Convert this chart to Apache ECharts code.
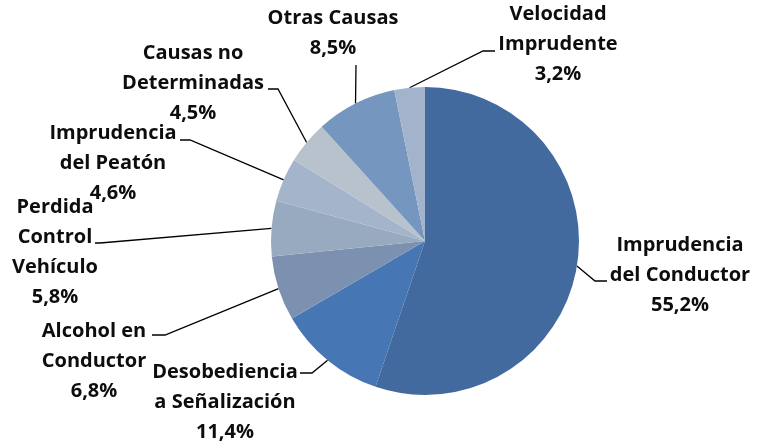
<!DOCTYPE html>
<html>
<head>
<meta charset="utf-8">
<script src="https://cdn.jsdelivr.net/npm/echarts@6/dist/echarts.min.js"></script>
<style>
  html, body { margin: 0; padding: 0; background: #fff; }
  #chart { width: 757px; height: 445px; }
</style>
</head>
<body>
<div id="chart"></div>
<script>
// causas, en orden horario desde las 12
const causes = [
  'Imprudencia\ndel Conductor',
  'Desobediencia\na Señalización',
  'Alcohol en\nConductor',
  'Perdida\nControl\nVehículo',
  'Imprudencia\ndel Peatón',
  'Causas no\nDeterminadas',
  'Otras Causas',
  'Velocidad\nImprudente',
]
const percents = [55.2, 11.4, 6.8, 5.8, 4.6, 4.5, 8.5, 3.2]

const sliceColors = ['#436a9e', '#4676b4', '#7c91b0', '#98aac0', '#a4b4cb', '#b7c2cc', '#7596be', '#a2b3cb']
// label block centres (px)
const labelPos = [
  [680, 275], [225, 402], [94, 361], [55, 252],
  [113, 163], [193, 83], [333, 33], [558, 44],
]
// where the leader line meets the label: x, y, horizontal stub length
const labelAnchor = [
  [607, 281, -12], [300, 373, 12], [152, 335, 13], [95, 243, 5],
  [180, 140, 10], [268, 89, 10], [356, 65, 0], [495, 51, -12],
]

const CX = 425
const CY = 241
const R = 154
const total = percents.reduce((a, b) => a + b, 0)

// point on the rim at the middle of slice i
function rimPoint(i) {
  let before = 0
  for (let k = 0; k < i; k++) before += percents[k]
  const a = ((before + percents[i] / 2) / total) * Math.PI * 2
  return [CX + R * Math.sin(a), CY - R * Math.cos(a)]
}

const chart = echarts.init(document.getElementById('chart'))

chart.setOption({
  animation: false,
  series: [
    {
      type: 'pie',
      center: [CX, CY],
      radius: R,
      startAngle: 90,
      clockwise: true,
      data: causes.map((name, i) => ({
        name,
        value: percents[i],
        itemStyle: { color: sliceColors[i] },
      })),
      label: {
        show: true,
        formatter: (p) => p.name + '\n' + p.value.toFixed(1).replace('.', ',') + '%',
        color: '#0d0d0d',
        fontFamily: 'Open Sans',
        fontWeight: 'bold',
        fontSize: 20,
        lineHeight: 30,
        align: 'center',
        overflow: 'none',
      },
      labelLine: {
        show: true,
        lineStyle: { color: '#000', width: 1.3 },
      },
      labelLayout: (params) => {
        const i = params.dataIndex
        const pos = labelPos[i]
        const an = labelAnchor[i]
        return {
          x: pos[0],
          y: pos[1],
          align: 'center',
          verticalAlign: 'middle',
          labelLinePoints: [rimPoint(i), [an[0] + an[2], an[1]], [an[0], an[1]]],
        }
      },
    },
  ],
})
</script>
</body>
</html>
